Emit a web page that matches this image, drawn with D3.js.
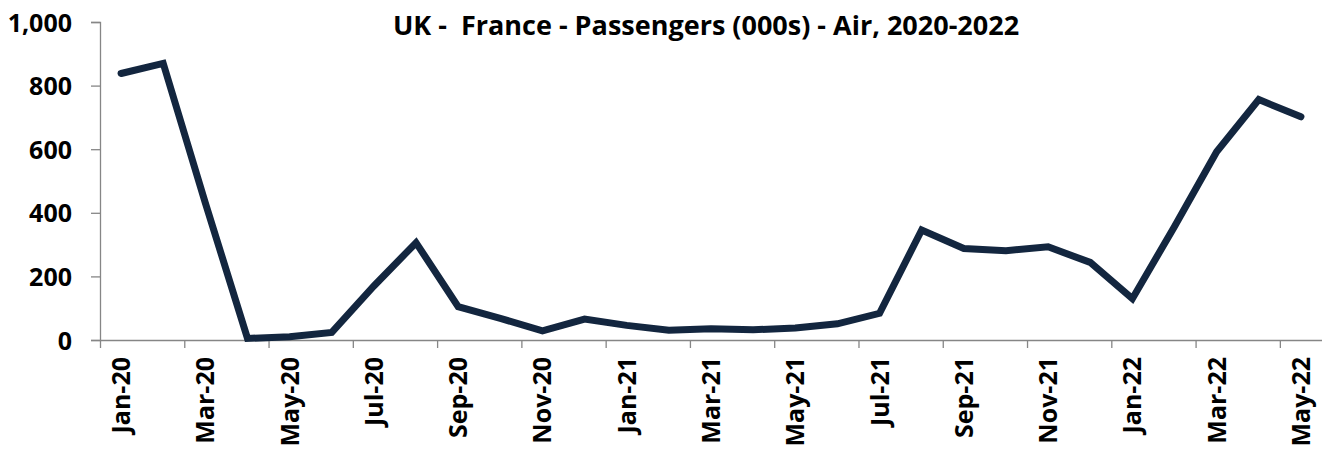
<!DOCTYPE html>
<html>
<head>
<meta charset="utf-8">
<script src="https://cdn.jsdelivr.net/npm/d3@7"></script>
<style>
  html, body { margin: 0; padding: 0; background: #fff; }
  svg { display: block; }
  text { font-family: "Open Sans", Lato, sans-serif; font-weight: bold; fill: #000; }
</style>
</head>
<body>
<svg id="chart" width="1343" height="451"></svg>
<script>
const title = "UK -  France - Passengers (000s) - Air, 2020-2022";
const months = ["Jan-20","Feb-20","Mar-20","Apr-20","May-20","Jun-20","Jul-20","Aug-20","Sep-20","Oct-20","Nov-20","Dec-20",
                "Jan-21","Feb-21","Mar-21","Apr-21","May-21","Jun-21","Jul-21","Aug-21","Sep-21","Oct-21","Nov-21","Dec-21",
                "Jan-22","Feb-22","Mar-22","Apr-22","May-22"];
const passengers = [838, 870, 431, 5, 10, 24, 170, 306, 105, 68, 29, 66,
                    46, 31, 35, 32, 38, 51, 84, 346, 288, 281, 293, 244,
                    130, 357, 592, 756, 702];
const yTicks = [0, 200, 400, 600, 800, 1000];

const svg = d3.select("#chart");
const mLeft = 100, mRight = 1322, mTop = 22, mBottom = 340;
const axisColor = "#868686";

const x = d3.scaleBand().domain(months).range([mLeft, mRight]).padding(0);
const xIdx = d3.scaleLinear().domain([0, months.length]).range([mLeft, mRight]);
const y = d3.scaleLinear().domain([0, 1000]).range([mBottom, mTop]);

// Y axis
const yAxis = svg.append("g").attr("transform", `translate(${mLeft},0)`)
  .call(d3.axisLeft(y).tickValues(yTicks).tickSize(9).tickPadding(19).tickFormat(d3.format(",")));
yAxis.select(".domain").attr("stroke", axisColor).attr("stroke-width", 1.3);
yAxis.selectAll(".tick line").attr("stroke", axisColor).attr("stroke-width", 1.3);
yAxis.selectAll("text").style("font-size", "25px").attr("dy", "0.36em");

// X axis tick marks (band boundaries every 2 months)
const xTickAxis = svg.append("g").attr("transform", `translate(0,${mBottom})`)
  .call(d3.axisBottom(xIdx).tickValues(d3.range(0, months.length, 2)).tickSize(8).tickFormat(""));
xTickAxis.select(".domain").attr("stroke", axisColor).attr("stroke-width", 1.3)
  .attr("d", `M${mLeft},0.5H${mRight}`);
xTickAxis.selectAll(".tick line").attr("stroke", axisColor).attr("stroke-width", 1.3);

// X axis labels (centered on every other month)
const xLabelAxis = svg.append("g").attr("transform", `translate(0,${mBottom})`)
  .call(d3.axisBottom(x).tickValues(months.filter((d, i) => i % 2 === 0)).tickSize(0));
xLabelAxis.select(".domain").remove();
xLabelAxis.selectAll("text")
  .style("font-size", "25px")
  .attr("text-anchor", "end")
  .attr("transform", "rotate(-90)")
  .attr("x", -17)
  .attr("y", 0)
  .attr("dy", "0.36em");

// Line
const line = d3.line()
  .x((d, i) => x(months[i]) + x.bandwidth() / 2)
  .y(d => y(d));
svg.append("path")
  .datum(passengers)
  .attr("fill", "none")
  .attr("stroke", "#13263f")
  .attr("stroke-width", 7)
  .attr("stroke-linecap", "round")
  .attr("stroke-linejoin", "miter")
  .attr("d", line);

// Title
svg.append("text")
  .attr("x", 706)
  .attr("y", 35)
  .attr("text-anchor", "middle")
  .style("font-size", "27px")
  .style("white-space", "pre")
  .attr("xml:space", "preserve")
  .text(title);
</script>
</body>
</html>
